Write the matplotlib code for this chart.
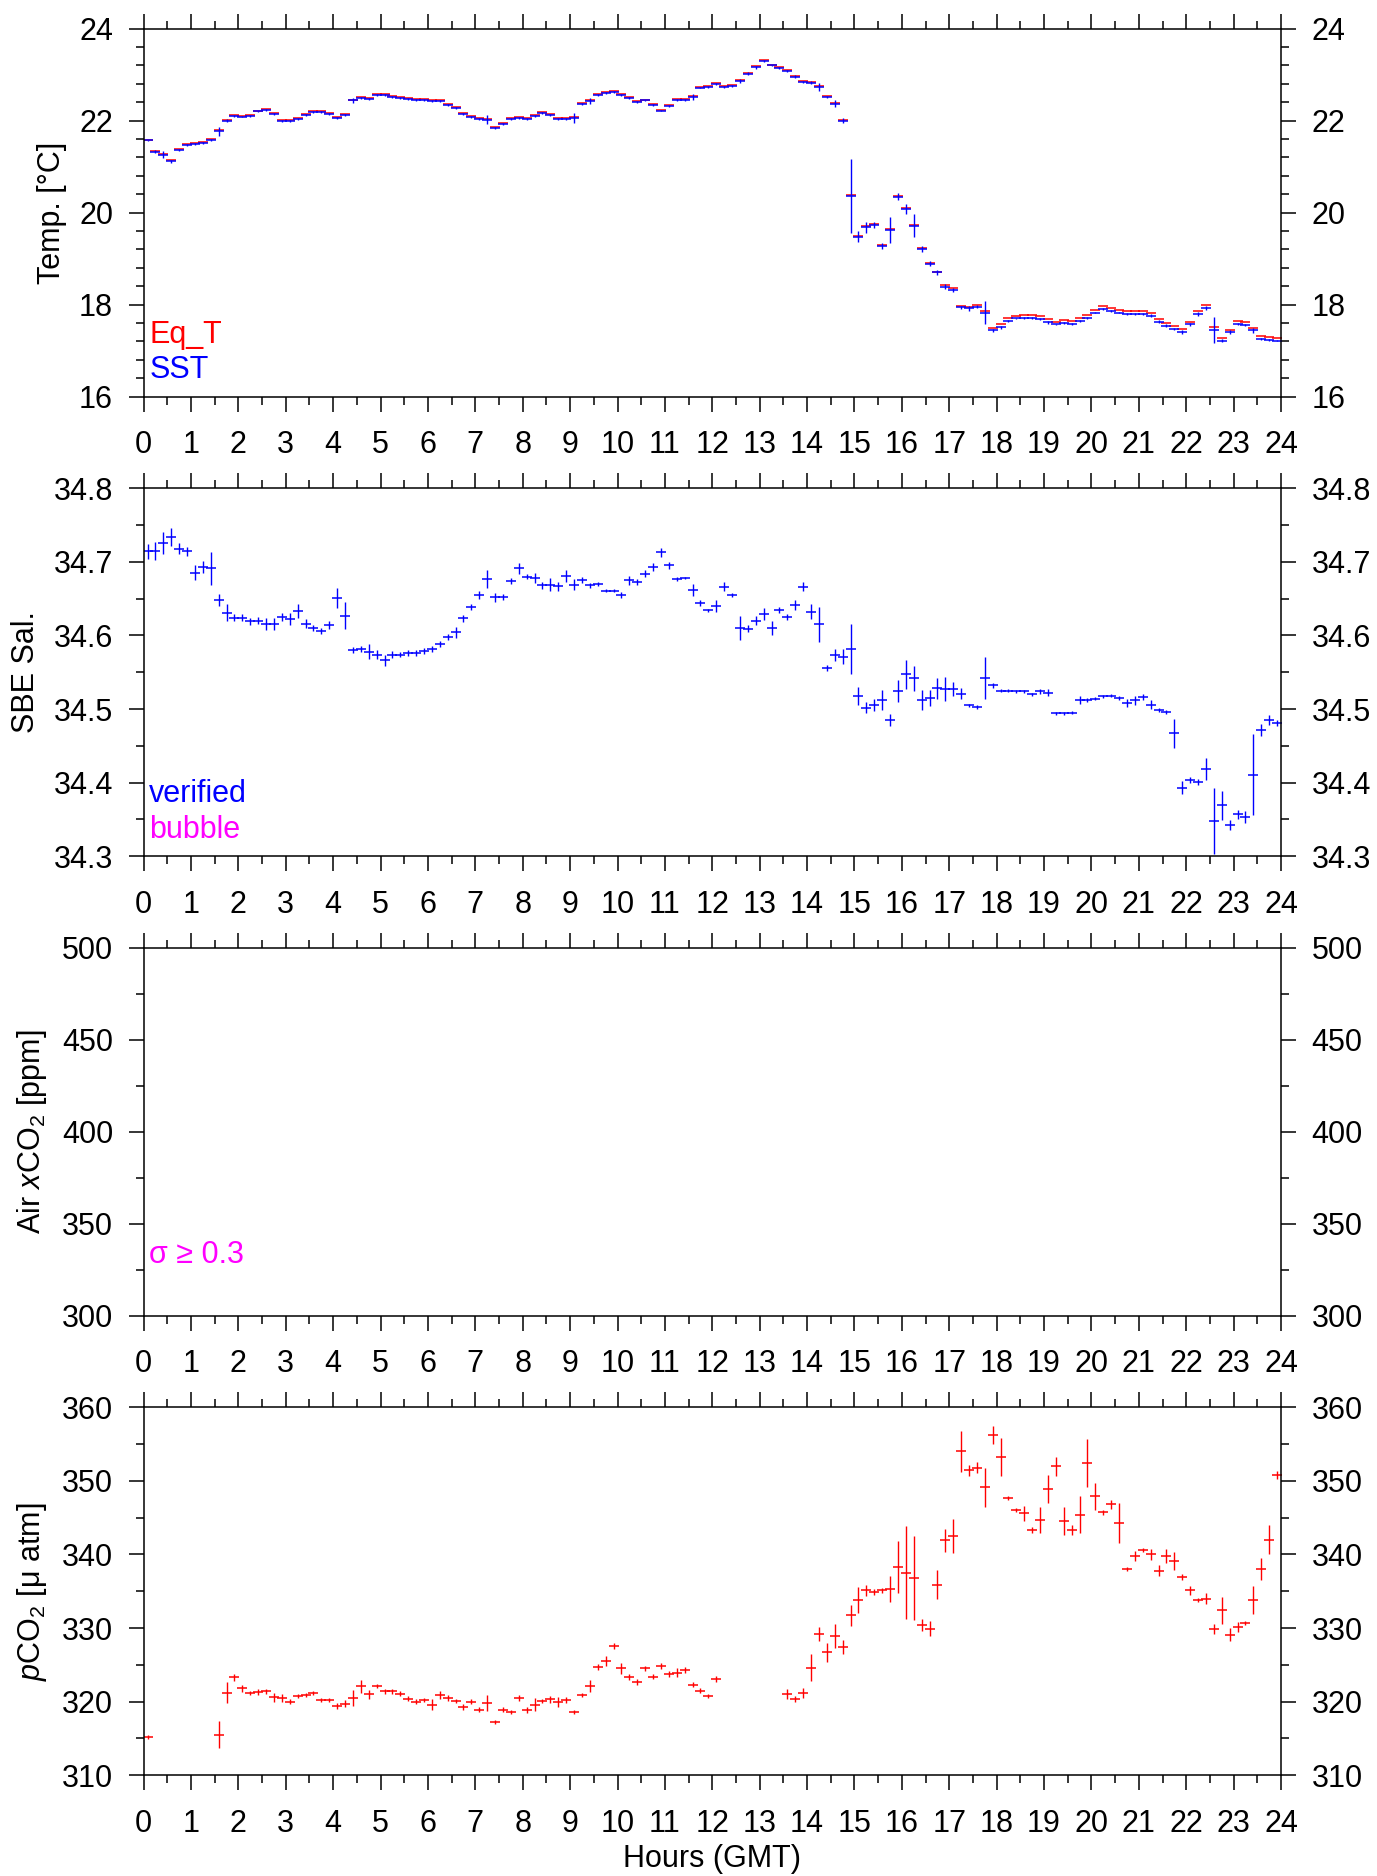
import numpy as np
import matplotlib
matplotlib.use('Agg')
import matplotlib.pyplot as plt
from matplotlib.ticker import MultipleLocator, FormatStrFormatter

# ============================================================
# DATA  (10-minute bins, centred at 5 min past)
# ============================================================

minutes = np.arange(5, 1440, 10)
hours = minutes / 60.0

# Sea surface temperature (SST) [deg C]
sst = [
    21.57, 21.33, 21.26, 21.12, 21.37, 21.48, 21.50, 21.52, 21.58, 21.77, 22.00, 22.11,
    22.09, 22.10, 22.20, 22.24, 22.15, 22.00, 21.99, 22.04, 22.13, 22.19, 22.19, 22.15,
    22.06, 22.12, 22.44, 22.50, 22.48, 22.55, 22.56, 22.51, 22.49, 22.48, 22.45, 22.45,
    22.42, 22.42, 22.35, 22.28, 22.15, 22.08, 22.03, 22.02, 21.84, 21.92, 22.03, 22.06,
    22.03, 22.10, 22.16, 22.13, 22.04, 22.04, 22.06, 22.36, 22.43, 22.55, 22.61, 22.62,
    22.56, 22.49, 22.40, 22.44, 22.35, 22.22, 22.32, 22.45, 22.45, 22.51, 22.72, 22.73,
    22.80, 22.74, 22.76, 22.87, 23.02, 23.16, 23.29, 23.20, 23.14, 23.08, 22.96, 22.85,
    22.83, 22.73, 22.51, 22.37, 22.00, 20.36, 19.48, 19.68, 19.73, 19.28, 19.63, 20.35,
    20.08, 19.72, 19.21, 18.89, 18.70, 18.39, 18.32, 17.94, 17.92, 17.96, 17.83, 17.44,
    17.51, 17.65, 17.70, 17.71, 17.71, 17.69, 17.62, 17.57, 17.60, 17.58, 17.64, 17.71,
    17.83, 17.91, 17.87, 17.83, 17.80, 17.80, 17.80, 17.76, 17.63, 17.54, 17.47, 17.41,
    17.57, 17.80, 17.93, 17.45, 17.22, 17.40, 17.58, 17.56, 17.44, 17.25, 17.23, 17.22,
]
sst_err = [
    0.02, 0.03, 0.08, 0.03, 0.02, 0.02, 0.02, 0.02, 0.03, 0.10, 0.03, 0.02,
    0.02, 0.02, 0.02, 0.02, 0.02, 0.02, 0.02, 0.02, 0.02, 0.02, 0.02, 0.02,
    0.02, 0.02, 0.06, 0.02, 0.02, 0.02, 0.02, 0.02, 0.02, 0.02, 0.02, 0.02,
    0.02, 0.02, 0.02, 0.02, 0.02, 0.02, 0.02, 0.10, 0.03, 0.02, 0.02, 0.02,
    0.02, 0.02, 0.02, 0.02, 0.02, 0.02, 0.10, 0.02, 0.06, 0.02, 0.02, 0.02,
    0.02, 0.02, 0.02, 0.02, 0.02, 0.02, 0.02, 0.02, 0.02, 0.07, 0.02, 0.02,
    0.02, 0.02, 0.02, 0.04, 0.03, 0.03, 0.02, 0.02, 0.02, 0.02, 0.03, 0.02,
    0.03, 0.08, 0.02, 0.07, 0.05, 0.80, 0.12, 0.12, 0.07, 0.06, 0.28, 0.07,
    0.10, 0.25, 0.06, 0.05, 0.05, 0.05, 0.05, 0.04, 0.05, 0.03, 0.25, 0.03,
    0.03, 0.02, 0.02, 0.02, 0.02, 0.02, 0.03, 0.02, 0.02, 0.02, 0.02, 0.02,
    0.02, 0.02, 0.02, 0.02, 0.02, 0.03, 0.03, 0.03, 0.03, 0.03, 0.03, 0.04,
    0.03, 0.05, 0.05, 0.28, 0.03, 0.04, 0.03, 0.03, 0.06, 0.02, 0.02, 0.02,
]

# Equilibrator temperature (Eq_T) [deg C]
eq_t = [
    21.59, 21.35, 21.28, 21.14, 21.39, 21.50, 21.52, 21.54, 21.60, 21.79, 22.02, 22.13,
    22.11, 22.12, 22.22, 22.26, 22.17, 22.02, 22.01, 22.06, 22.15, 22.21, 22.21, 22.17,
    22.08, 22.14, 22.46, 22.52, 22.50, 22.57, 22.58, 22.53, 22.51, 22.50, 22.47, 22.47,
    22.44, 22.44, 22.37, 22.30, 22.17, 22.10, 22.05, 22.04, 21.86, 21.94, 22.05, 22.08,
    22.05, 22.12, 22.18, 22.15, 22.06, 22.06, 22.08, 22.38, 22.45, 22.57, 22.63, 22.64,
    22.58, 22.51, 22.42, 22.46, 22.37, 22.24, 22.34, 22.47, 22.47, 22.53, 22.74, 22.75,
    22.82, 22.76, 22.78, 22.89, 23.04, 23.18, 23.31, 23.22, 23.16, 23.10, 22.98, 22.87,
    22.85, 22.75, 22.53, 22.39, 22.02, 20.38, 19.50, 19.70, 19.75, 19.30, 19.65, 20.37,
    20.10, 19.74, 19.23, 18.91, 18.72, 18.43, 18.36, 17.98, 17.96, 18.00, 17.87, 17.50,
    17.57, 17.71, 17.76, 17.77, 17.77, 17.75, 17.68, 17.63, 17.66, 17.64, 17.70, 17.77,
    17.89, 17.97, 17.93, 17.89, 17.86, 17.86, 17.86, 17.82, 17.69, 17.60, 17.53, 17.47,
    17.63, 17.86, 17.99, 17.51, 17.28, 17.46, 17.64, 17.62, 17.50, 17.31, 17.29, 17.28,
]

# SBE salinity (verified)
sal = [
    34.714, 34.715, 34.725, 34.734, 34.718, 34.714, 34.685, 34.693, 34.691, 34.648, 34.631, 34.624,
    34.624, 34.619, 34.620, 34.616, 34.616, 34.625, 34.622, 34.633, 34.616, 34.610, 34.606, 34.614,
    34.651, 34.627, 34.580, 34.581, 34.578, 34.574, 34.566, 34.574, 34.574, 34.576, 34.576, 34.579,
    34.581, 34.588, 34.598, 34.604, 34.623, 34.638, 34.655, 34.677, 34.652, 34.652, 34.674, 34.691,
    34.680, 34.678, 34.668, 34.669, 34.667, 34.681, 34.669, 34.675, 34.668, 34.670, 34.661, 34.661,
    34.655, 34.675, 34.672, 34.684, 34.693, 34.713, 34.695, 34.677, 34.678, 34.662, 34.644, 34.634,
    34.640, 34.666, 34.655, 34.610, 34.609, 34.620, 34.629, 34.610, 34.634, 34.625, 34.641, 34.666,
    34.632, 34.615, 34.556, 34.573, 34.571, 34.582, 34.518, 34.502, 34.505, 34.512, 34.485, 34.524,
    34.547, 34.542, 34.512, 34.515, 34.528, 34.527, 34.527, 34.521, 34.505, 34.503, 34.542, 34.532,
    34.525, 34.525, 34.524, 34.524, 34.520, 34.524, 34.522, 34.494, 34.494, 34.495, 34.512, 34.512,
    34.514, 34.517, 34.518, 34.515, 34.508, 34.512, 34.516, 34.506, 34.499, 34.496, 34.467, 34.393,
    34.403, 34.401, 34.418, 34.348, 34.369, 34.342, 34.357, 34.353, 34.411, 34.471, 34.485, 34.481,
]
sal_err = [
    0.010, 0.012, 0.015, 0.012, 0.008, 0.006, 0.010, 0.008, 0.022, 0.008, 0.012, 0.005,
    0.005, 0.005, 0.005, 0.008, 0.008, 0.006, 0.008, 0.010, 0.006, 0.004, 0.004, 0.005,
    0.014, 0.018, 0.004, 0.004, 0.010, 0.006, 0.008, 0.005, 0.004, 0.004, 0.004, 0.004,
    0.004, 0.004, 0.004, 0.008, 0.005, 0.004, 0.006, 0.012, 0.006, 0.004, 0.004, 0.008,
    0.004, 0.007, 0.005, 0.009, 0.006, 0.008, 0.007, 0.004, 0.003, 0.003, 0.002, 0.002,
    0.004, 0.006, 0.004, 0.005, 0.006, 0.006, 0.005, 0.003, 0.002, 0.008, 0.004, 0.002,
    0.008, 0.006, 0.003, 0.016, 0.005, 0.006, 0.008, 0.010, 0.004, 0.004, 0.007, 0.006,
    0.010, 0.024, 0.004, 0.008, 0.010, 0.034, 0.012, 0.007, 0.008, 0.014, 0.008, 0.015,
    0.020, 0.017, 0.014, 0.011, 0.014, 0.016, 0.010, 0.008, 0.002, 0.003, 0.028, 0.004,
    0.002, 0.002, 0.002, 0.002, 0.002, 0.003, 0.005, 0.002, 0.002, 0.002, 0.005, 0.003,
    0.002, 0.002, 0.002, 0.003, 0.005, 0.006, 0.004, 0.006, 0.003, 0.003, 0.020, 0.009,
    0.004, 0.004, 0.015, 0.045, 0.020, 0.007, 0.006, 0.008, 0.055, 0.008, 0.007, 0.004,
]

# Seawater pCO2 [uatm]; nan = no valid measurement
nan = np.nan
pco2 = [
    315.2, nan, nan, nan, nan, nan, nan, nan, nan, 315.5, 321.2, 323.3,
    321.8, 321.2, 321.3, 321.4, 320.6, 320.5, 320.0, 320.8, 320.9, 321.2, 320.2, 320.2,
    319.4, 319.7, 320.5, 322.1, 321.0, 322.1, 321.4, 321.4, 321.1, 320.4, 320.0, 320.2,
    319.6, 320.9, 320.5, 320.1, 319.3, 320.0, 318.9, 319.8, 317.2, 318.9, 318.6, 320.5,
    318.8, 319.6, 320.1, 320.3, 319.9, 320.2, 318.6, 320.9, 322.1, 324.7, 325.5, 327.6,
    324.5, 323.3, 322.7, 324.5, 323.4, 324.8, 323.7, 323.9, 324.3, 322.3, 321.5, 320.8,
    323.1, nan, nan, nan, nan, nan, nan, nan, nan, 321.0, 320.3, 321.2,
    324.6, 329.2, 326.7, 328.9, 327.4, 331.7, 333.8, 335.1, 334.9, 335.1, 335.3, 338.3,
    337.5, 336.8, 330.4, 329.9, 335.9, 341.9, 342.5, 354.0, 351.4, 351.8, 349.1, 356.2,
    353.2, 347.7, 346.0, 345.6, 343.3, 344.7, 348.9, 352.0, 344.5, 343.3, 345.4, 352.4,
    347.9, 345.7, 346.8, 344.3, 338.0, 339.8, 340.6, 340.0, 337.8, 339.8, 339.1, 336.9,
    335.1, 333.8, 334.0, 329.9, 332.4, 329.1, 330.1, 330.7, 333.8, 338.0, 342.0, 350.8,
]
pco2_err = [
    0.3, nan, nan, nan, nan, nan, nan, nan, nan, 1.8, 1.4, 0.5,
    0.5, 0.3, 0.4, 0.3, 0.6, 0.6, 0.3, 0.3, 0.3, 0.3, 0.3, 0.3,
    0.4, 0.5, 1.1, 0.9, 0.6, 0.3, 0.3, 0.3, 0.3, 0.3, 0.3, 0.3,
    0.7, 0.6, 0.4, 0.3, 0.4, 0.3, 0.3, 1.1, 0.3, 0.3, 0.3, 0.4,
    0.4, 0.9, 0.3, 0.5, 0.7, 0.4, 0.3, 0.3, 0.8, 0.4, 0.7, 0.4,
    0.8, 0.4, 0.4, 0.3, 0.3, 0.4, 0.4, 0.6, 0.4, 0.3, 0.3, 0.3,
    0.4, nan, nan, nan, nan, nan, nan, nan, nan, 0.7, 0.4, 0.7,
    1.8, 1.0, 1.3, 1.6, 1.0, 1.4, 1.8, 0.8, 0.4, 0.4, 1.8, 3.5,
    6.3, 5.7, 0.8, 1.0, 2.0, 1.6, 2.3, 2.8, 0.8, 0.8, 2.6, 1.2,
    2.6, 0.3, 0.3, 1.0, 0.4, 1.8, 1.9, 1.3, 1.9, 0.7, 2.5, 3.3,
    1.8, 0.4, 0.6, 2.7, 0.3, 0.7, 0.3, 0.8, 0.7, 1.0, 1.2, 0.4,
    0.6, 0.3, 0.7, 0.7, 1.8, 0.9, 0.7, 0.3, 1.9, 1.5, 2.0, 0.5,
]

# ============================================================
# STYLE
# ============================================================

FAMILY = ['Liberation Sans', 'DejaVu Sans']
plt.rcParams['font.family'] = FAMILY
plt.rcParams['mathtext.fontset'] = 'custom'
plt.rcParams['mathtext.rm'] = 'Liberation Sans'
plt.rcParams['mathtext.it'] = 'Liberation Sans:italic'
plt.rcParams['font.size'] = 22
plt.rcParams['axes.linewidth'] = 1.1

BLUE = '#0000ff'
RED = '#ff0000'
MAGENTA = '#ff00ff'

pt = dict(fmt='_', ms=6.5, mew=1.1, elinewidth=1.0, capsize=0, linestyle='none')


def style_panel(ax, ylim, major, minor, fmt):
    ax.set_xlim(0, 24)
    ax.set_ylim(*ylim)
    ax.xaxis.set_major_locator(MultipleLocator(1))
    ax.xaxis.set_minor_locator(MultipleLocator(0.5))
    ax.yaxis.set_major_locator(MultipleLocator(major))
    ax.yaxis.set_minor_locator(MultipleLocator(minor))
    ax.yaxis.set_major_formatter(FormatStrFormatter(fmt))
    ax.tick_params(which='both', direction='out', top=True, right=True,
                   labelright=True, width=1.1, labelsize=22)
    ax.tick_params(which='major', length=11)
    ax.tick_params(which='minor', length=5.5)
    ax.tick_params(axis='x', which='major', pad=13)
    ax.tick_params(axis='y', which='major', pad=11)


fig = plt.figure(figsize=(13.77, 18.76), dpi=100)

left, width = 143.6 / 1377, 1137.4 / 1377
height = 368 / 1876
axes = []
for i in range(4):
    bottom_px = 28.7 + 459.5 * i + 368
    axes.append(fig.add_axes([left, 1 - bottom_px / 1876, width, height]))
ax1, ax2, ax3, ax4 = axes

# Panel 1: temperatures
ax1.plot(hours, eq_t, marker='_', ms=6.5, mew=1.1, color=RED, linestyle='none')
ax1.errorbar(hours, sst, yerr=sst_err, color=BLUE, **pt)
style_panel(ax1, (16, 24), 2, 0.4, '%d')
ax1.set_ylabel('Temp. [°C]', labelpad=9)
ax1.text(0.005, 0.168, 'Eq_T', color=RED, transform=ax1.transAxes, va='center', fontsize=22)
ax1.text(0.005, 0.073, 'SST', color=BLUE, transform=ax1.transAxes, va='center', fontsize=22)

# Panel 2: salinity
ax2.errorbar(hours, sal, yerr=sal_err, color=BLUE, **pt)
style_panel(ax2, (34.3, 34.8), 0.1, 0.05, '%.1f')
ax2.set_ylabel('SBE Sal.', labelpad=9)
ax2.text(0.005, 0.169, 'verified', color=BLUE, transform=ax2.transAxes, va='center', fontsize=22)
ax2.text(0.005, 0.071, 'bubble', color=MAGENTA, transform=ax2.transAxes, va='center', fontsize=22)

# Panel 3: atmospheric xCO2 (no valid data)
style_panel(ax3, (300, 500), 50, 25, '%d')
ax3.set_ylabel(r'Air $x$CO$_2$ [ppm]', labelpad=9)
ax3.text(0.005, 0.166, 'σ ≥ 0.3', color=MAGENTA, transform=ax3.transAxes,
         va='center', fontsize=22, family=FAMILY)

# Panel 4: seawater pCO2
ax4.errorbar(hours, pco2, yerr=pco2_err, color=RED, **pt)
style_panel(ax4, (310, 360), 10, 5, '%d')
ax4.set_ylabel(r'$p$CO$_2$ [μ atm]', labelpad=9)
ax4.set_xlabel('Hours (GMT)', labelpad=4)

fig.savefig('out.png', dpi=100)
